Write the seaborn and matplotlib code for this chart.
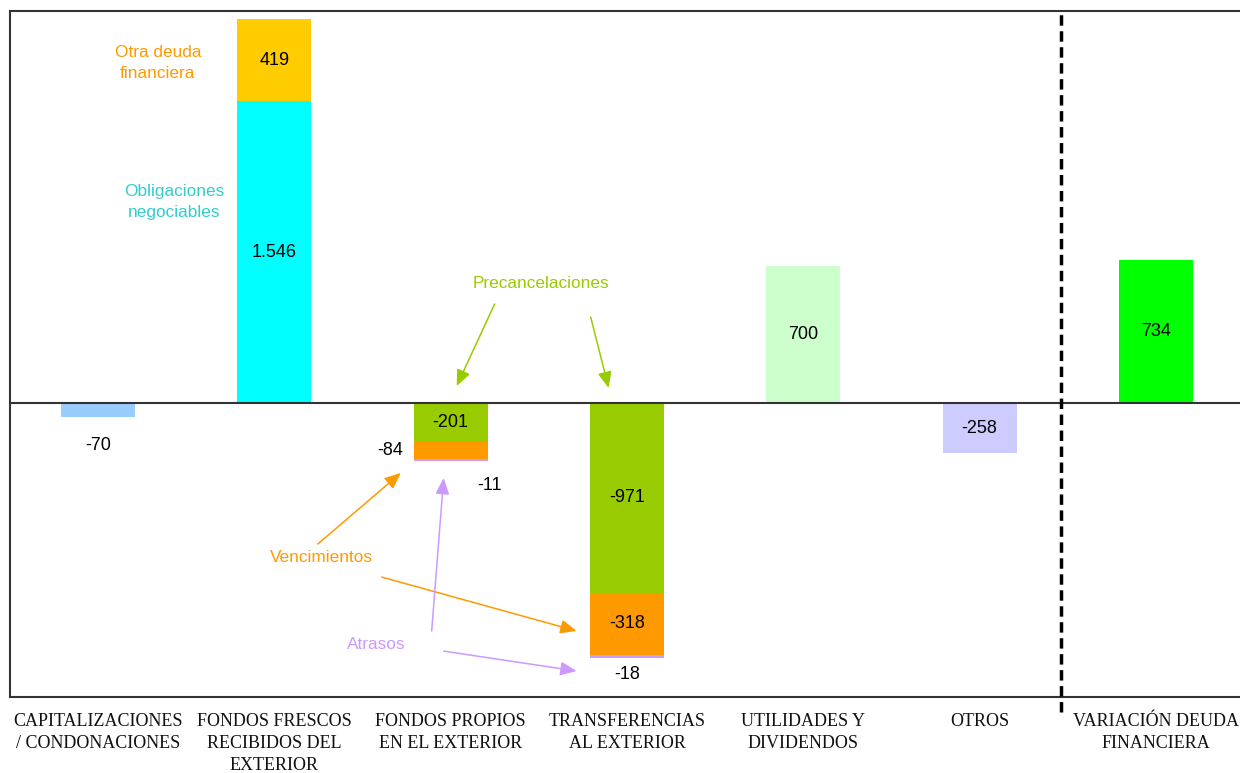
import matplotlib
matplotlib.use("Agg")
import matplotlib.pyplot as plt
import seaborn as sns
import pandas as pd
import numpy as np

# ---------------- data ----------------
categories = [
    "CAPITALIZACIONES\n/ CONDONACIONES",
    "FONDOS FRESCOS\nRECIBIDOS DEL\nEXTERIOR",
    "FONDOS PROPIOS\nEN EL EXTERIOR",
    "TRANSFERENCIAS\nAL EXTERIOR",
    "UTILIDADES Y\nDIVIDENDOS",
    "OTROS",
    "VARIACIÓN DEUDA\nFINANCIERA",
]
# single-segment bars
single_values = [-70, None, None, None, 700, -258, 734]
single_colors = ["#99CCFF", None, None, None, "#CCFFCC", "#CCCCFF", "#00FF00"]
# stacked positive (FONDOS FRESCOS)
obligaciones = [None, 1546, None, None, None, None, None]
otra_deuda = [None, 419, None, None, None, None, None]
# stacked negative (FONDOS PROPIOS, TRANSFERENCIAS)
precancelaciones = [None, None, -201, -971, None, None, None]
vencimientos = [None, None, -84, -318, None, None, None]
atrasos = [None, None, -11, -18, None, None, None]

labels_fmt = {1546: "1.546"}

sns.set_theme(style="white")
plt.rcParams["font.family"] = ["Liberation Sans", "DejaVu Sans"]
plt.rcParams["text.color"] = "black"

fig = plt.figure(figsize=(12.4, 7.73), dpi=100)
ax = fig.add_axes([10 / 1240, 1 - 697 / 773, 1234 / 1240, 686 / 773])

W = 0.42


def bars(values, color):
    df = pd.DataFrame({"cat": categories, "val": values}).dropna()
    if isinstance(color, list):
        pal = {c: col for c, col, v in zip(categories, color, values) if v is not None}
        sns.barplot(data=df, x="cat", y="val", hue="cat", palette=pal, order=categories,
                    hue_order=list(pal.keys()), width=W, saturation=1, errorbar=None,
                    linewidth=0, legend=False, ax=ax, dodge=False)
    else:
        sns.barplot(data=df, x="cat", y="val", order=categories, color=color, width=W,
                    saturation=1, errorbar=None, linewidth=0, ax=ax)


def cum(*series):
    out = []
    for vals in zip(*series):
        if all(v is None for v in vals):
            out.append(None)
        else:
            out.append(sum(v for v in vals if v is not None))
    return out


# draw stacks from outermost cumulative to innermost
bars(cum(obligaciones, otra_deuda), "#FFCC00")
bars(obligaciones, "#00FFFF")
bars(cum(precancelaciones, vencimientos, atrasos), "#CC99FF")
bars(cum(precancelaciones, vencimientos), "#FF9900")
bars(precancelaciones, "#99CC00")
bars(single_values, single_colors)

ax.set_xlim(-0.5, 6.5)
ax.set_ylim(-1505, 2007)
ax.set_yticks([])
ax.set_xlabel("")
ax.set_ylabel("")
ax.axhline(0, color="#333333", lw=1.5, zorder=5)
for s in ax.spines.values():
    s.set_color("#333333")
    s.set_linewidth(1.5)

ax.set_xticks(range(len(categories)))
ax.set_xticklabels(categories, family=["Liberation Serif", "DejaVu Serif"], fontsize=13,
                   color="#111111", linespacing=1.4)
ax.tick_params(axis="x", length=0, pad=11.5)

# dashed separator
ax.plot([5.46, 5.46], [-1580, 2007], color="black", lw=2.5, ls=(0, (3, 1.6)),
        clip_on=False, zorder=6)

# value labels
fs = 13
def fmt(v):
    return labels_fmt.get(v, str(v))

ax.text(0, -215, fmt(single_values[0]), ha="center", va="center", fontsize=fs)
ax.text(1, obligaciones[1] / 2, fmt(obligaciones[1]), ha="center", va="center", fontsize=fs)
ax.text(1, obligaciones[1] + otra_deuda[1] / 2, fmt(otra_deuda[1]), ha="center", va="center", fontsize=fs)
for i in (2, 3):
    ax.text(i, precancelaciones[i] / 2, fmt(precancelaciones[i]), ha="center", va="center", fontsize=fs)
ax.text(3, precancelaciones[3] + vencimientos[3] / 2, fmt(vencimientos[3]), ha="center", va="center", fontsize=fs)
ax.text(1.73, -243, fmt(vencimientos[2]), ha="right", va="center", fontsize=fs)
ax.text(2.22, -420, fmt(atrasos[2]), ha="center", va="center", fontsize=fs)
ax.text(3, -1388, fmt(atrasos[3]), ha="center", va="center", fontsize=fs)
for i in (4, 5, 6):
    ax.text(i, single_values[i] / 2, fmt(single_values[i]), ha="center", va="center", fontsize=fs)

# annotations
afs = 12.4
ax.text(0.339, 1741, "Otra deuda\nfinanciera", color="#FF9900", ha="center", va="center",
        fontsize=afs, linespacing=1.45)
ax.text(0.430, 1029, "Obligaciones\nnegociables", color="#33CCCC", ha="center", va="center",
        fontsize=afs, linespacing=1.45)
ax.text(2.510, 614, "Precancelaciones", color="#99CC00", ha="center", va="center", fontsize=afs)
ax.text(1.269, -789, "Vencimientos", color="#FF9900", ha="center", va="center", fontsize=afs)
ax.text(1.580, -1234, "Atrasos", color="#CC99FF", ha="center", va="center", fontsize=afs)


def arrow(x0, y0, x1, y1, color):
    ax.annotate("", xy=(x1, y1), xytext=(x0, y0),
                arrowprops=dict(arrowstyle="-|>,head_length=0.7,head_width=0.3", color=color,
                                lw=1.1, shrinkA=0, shrinkB=0, mutation_scale=14), zorder=7)


arrow(2.249, 507, 2.034, 87, "#99CC00")
arrow(2.794, 440, 2.896, 77, "#99CC00")
arrow(1.246, -722, 1.717, -358, "#FF9900")
arrow(1.609, -891, 2.714, -1167, "#FF9900")
arrow(1.892, -1167, 1.960, -384, "#CC99FF")
arrow(1.960, -1270, 2.714, -1372, "#CC99FF")

fig.savefig("out.png", dpi=100)
